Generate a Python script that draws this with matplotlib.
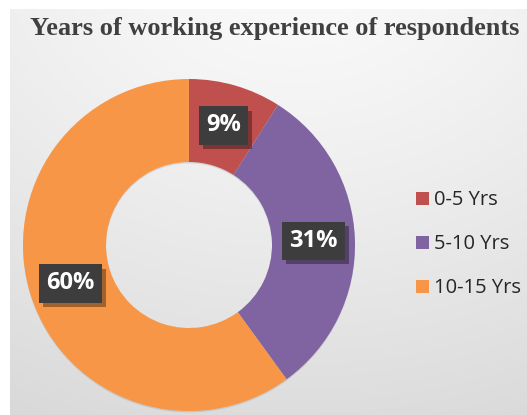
import numpy as np
import matplotlib
matplotlib.use("Agg")
import matplotlib.pyplot as plt
from matplotlib import patheffects as pe
from matplotlib.patches import Patch

categories = ["0-5 Yrs", "5-10 Yrs", "10-15 Yrs"]
shares = [9, 31, 60]
colors = ["#C0504D", "#8064A2", "#F79646"]
title = "Years of working experience of respondents"

W, H = 527, 415
dpi = 100
fig = plt.figure(figsize=(W / dpi, H / dpi), dpi=dpi)
fig.patch.set_facecolor("white")

# soft radial background panel
bg = fig.add_axes([10 / W, 0, 1 - 10 / W, 1 - 9 / H])
bg.set_axis_off()
ny, nx = 200, 260
yy, xx = np.mgrid[0:ny, 0:nx]
cx, cy = nx * 0.55, -ny * 0.15
d = np.sqrt(((xx - cx) / nx) ** 2 + ((yy - cy) / ny) ** 2)
d = (d - d.min()) / (d.max() - d.min())
shade = 0.975 - 0.125 * d ** 1.2
img = np.dstack([shade, shade, shade])
bg.imshow(img, aspect="auto", extent=[0, 1, 0, 1], origin="upper", interpolation="bicubic")
bg.set_xlim(0, 1)
bg.set_ylim(0, 1)

# donut
R = 166
cxp, cyp = 189, 245
ax = fig.add_axes([(cxp - R) / W, (H - cyp - R) / H, 2 * R / W, 2 * R / H])
ax.set_facecolor("none")
wedges, texts, autotexts = ax.pie(
    shares, colors=colors, startangle=90, counterclock=False,
    radius=1.0, wedgeprops=dict(width=0.5, linewidth=0),
    autopct=lambda p: f"{p:.0f}%", pctdistance=0.75,
    textprops=dict(color="white", fontsize=17, fontweight="bold", family="Open Sans"),
)
for w in wedges:
    w.set_path_effects([pe.SimplePatchShadow(offset=(0, -1), shadow_rgbFace="#888888", alpha=0.25), pe.Normal()])
ax.set_xlim(-1, 1)
ax.set_ylim(-1, 1)
ax.set_aspect("equal")
ax.axis("off")
for t in autotexts:
    t.set_bbox(dict(boxstyle="square,pad=0.3", fc="#3d3d3d", ec="none"))
    t.get_bbox_patch().set_path_effects(
        [pe.SimplePatchShadow(offset=(3, -3), shadow_rgbFace="black", alpha=0.35), pe.Normal()]
    )

fig.text(30 / W, 1 - 28 / H, title, fontsize=19, fontweight="bold",
         family="Liberation Serif", color="#404040", ha="left", va="center")

handles = [Patch(facecolor=c, edgecolor="none") for c in colors]
fig.legend(handles, categories, loc="upper left", bbox_to_anchor=(398 / W, 1 - 172 / H),
           frameon=False, prop=dict(family="Open Sans", size=14.5),
           handlelength=0.62, handleheight=0.62, handletextpad=0.25,
           labelspacing=1.2, labelcolor="#262626")

fig.savefig("out.png", dpi=dpi)
